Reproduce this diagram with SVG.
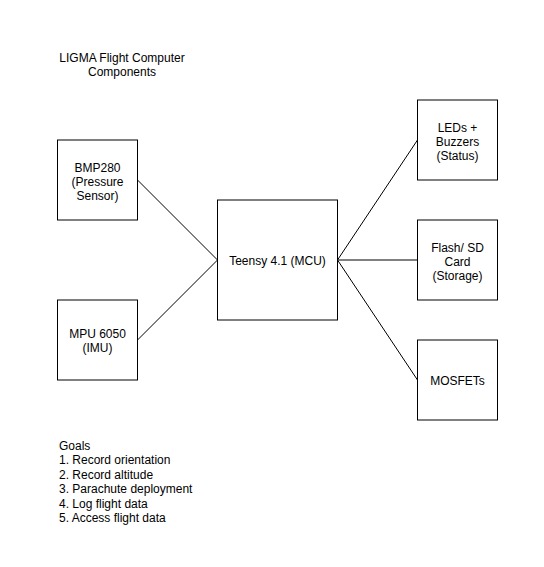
<svg xmlns="http://www.w3.org/2000/svg" width="544" height="567" viewBox="0 0 544 567">
<style>
text{font-family:"Liberation Sans",Arial,sans-serif;font-size:12px;fill:#000}
.c{text-anchor:middle}
.box{fill:#fff;stroke:#000;stroke-width:1}
.edge{stroke:#000;stroke-width:1;fill:none}
</style>
<rect width="544" height="567" fill="#fff"/>
<g id="title">
<text class="c" x="122" y="62">LIGMA Flight Computer</text>
<text class="c" x="122" y="75.5">Components</text>
</g>
<g id="connectors">
<line class="edge" x1="137.5" y1="180" x2="217.5" y2="260"/>
<line class="edge" x1="137.5" y1="340" x2="217.5" y2="260"/>
<line class="edge" x1="337.5" y1="260" x2="417.5" y2="140"/>
<line class="edge" x1="337.5" y1="260" x2="417.5" y2="260"/>
<line class="edge" x1="337.5" y1="260" x2="417.5" y2="380"/>
</g>
<g id="bmp280">
<rect class="box" x="57.5" y="140" width="80" height="80"/>
<text class="c" x="97.5" y="171.5">BMP280</text>
<text class="c" x="97.5" y="185.5">(Pressure</text>
<text class="c" x="97.5" y="199.5">Sensor)</text>
</g>
<g id="mpu6050">
<rect class="box" x="57.5" y="300" width="80" height="80"/>
<text class="c" x="97.5" y="338">MPU 6050</text>
<text class="c" x="97.5" y="352">(IMU)</text>
</g>
<g id="teensy">
<rect class="box" x="217.5" y="200" width="120" height="120"/>
<text class="c" x="277.5" y="264.5">Teensy 4.1 (MCU)</text>
</g>
<g id="leds">
<rect class="box" x="417.5" y="100" width="80" height="80"/>
<text class="c" x="457.5" y="131.5">LEDs +</text>
<text class="c" x="457.5" y="145.5">Buzzers</text>
<text class="c" x="457.5" y="159.5">(Status)</text>
</g>
<g id="flash">
<rect class="box" x="417.5" y="220" width="80" height="80"/>
<text class="c" x="457.5" y="251.5">Flash/ SD</text>
<text class="c" x="457.5" y="265.5">Card</text>
<text class="c" x="457.5" y="279.5">(Storage)</text>
</g>
<g id="mosfets">
<rect class="box" x="417.5" y="340" width="80" height="80"/>
<text class="c" x="457.5" y="384.5">MOSFETs</text>
</g>
<g id="goals">
<text x="59" y="449.5">Goals</text>
<text x="59" y="464">1. Record orientation</text>
<text x="59" y="478.5">2. Record altitude</text>
<text x="59" y="493">3. Parachute deployment</text>
<text x="59" y="507.5">4. Log flight data</text>
<text x="59" y="522">5. Access flight data</text>
</g>
</svg>
